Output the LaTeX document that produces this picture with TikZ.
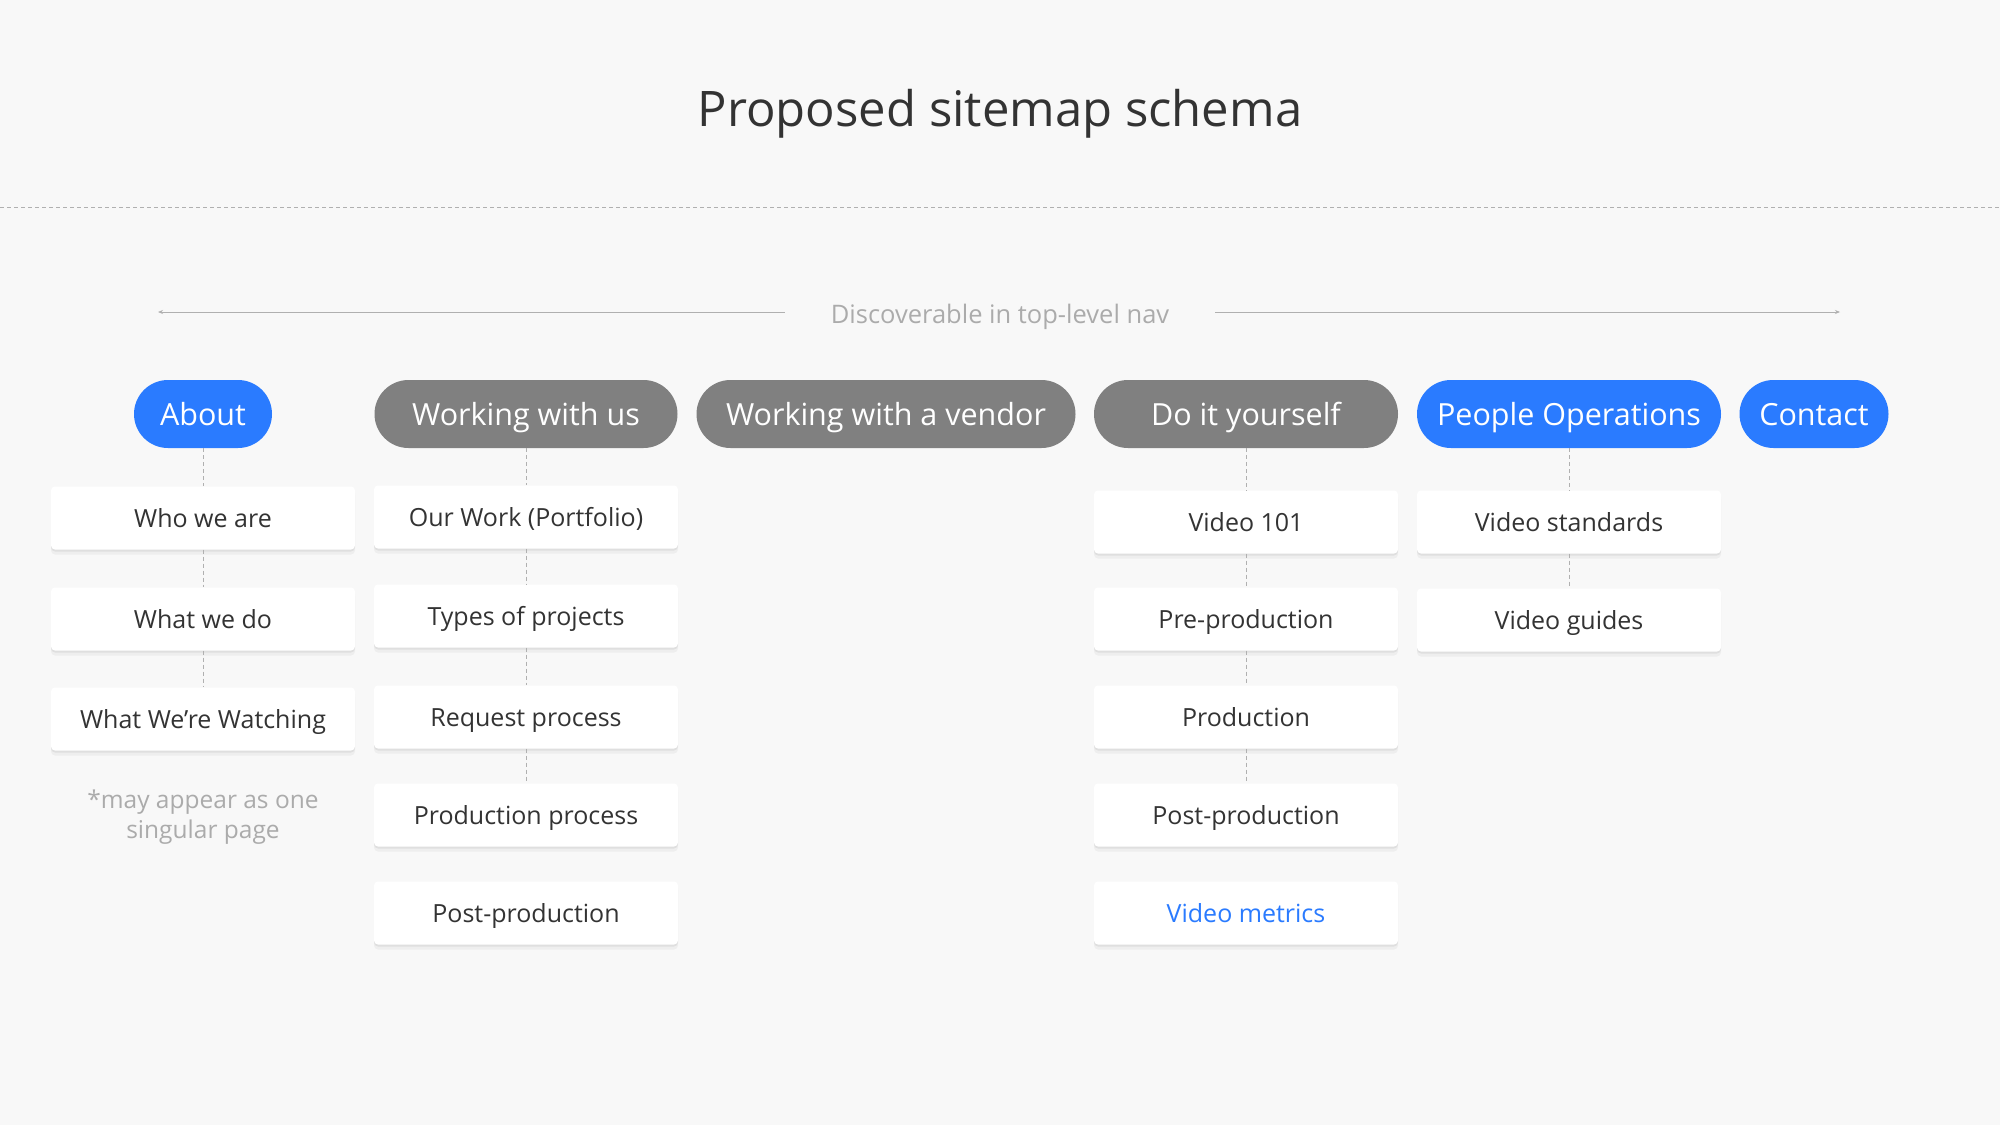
\documentclass[tikz,border=0pt]{standalone}
\usepackage{fontspec}
\setmainfont{Open Sans}
\usetikzlibrary{arrows.meta, shadows}
\definecolor{pageBg}{HTML}{F8F8F8}
\definecolor{navBlue}{HTML}{2A7BFF}
\definecolor{navGray}{HTML}{808080}
\definecolor{textDark}{HTML}{333333}
\definecolor{hintGray}{HTML}{ABABAB}
\definecolor{lineGray}{HTML}{B0B0B0}

\begin{document}
\begin{tikzpicture}[x=1pt, y=-1pt,
    pill/.style={rounded corners=34pt, minimum height=68pt, inner sep=0pt, text height=23pt, text depth=1pt, text=white, font=\fontsize{30.5}{34}\selectfont},
    pagebox/.style={fill=white, rounded corners=4pt, minimum width=304pt, minimum height=63pt, inner sep=0pt, text height=19pt, text depth=1pt, text=textDark, font=\fontsize{25}{29}\selectfont,
        drop shadow={shadow xshift=0pt, shadow yshift=-2pt, opacity=0.06, fill=black},
        drop shadow={shadow xshift=0pt, shadow yshift=-5pt, opacity=0.04, fill=black}},
    link/.style={draw=lineGray, dash pattern=on 4pt off 3pt, line width=0.8pt}]

    % background and frame
    \fill[pageBg] (0,0) rectangle (2000,1125);
    \useasboundingbox (0,0) rectangle (2000,1125);

    \node[text=textDark, font=\fontsize{49}{54}\selectfont] (title) at (1000,114) {Proposed sitemap schema};
    \draw[lineGray, dash pattern=on 4pt off 3pt, line width=0.8pt] (0,207) -- (2000,207);

    % top-level nav
    \node[text=hintGray, inner xsep=46pt, font=\fontsize{25.5}{30}\selectfont] (navtxt) at (1000,317) {Discoverable in top-level nav};
    \coordinate (navL) at (158,312);
    \coordinate (navR) at (1840,312);
    \draw[-{Stealth[length=5pt,width=4pt]}, lineGray, line width=1pt] (navtxt.west |- navL) -- (navL);
    \draw[-{Stealth[length=5pt,width=4pt]}, lineGray, line width=1pt] (navtxt.east |- navR) -- (navR);

    \foreach \name/\x/\w/\col/\txt in {about/203/138/navBlue/About, work/526/303/navGray/Working with us,
        vendor/886/379/navGray/Working with a vendor, diy/1246/304/navGray/Do it yourself,
        people/1569/304/navBlue/People Operations, contact/1814/149/navBlue/Contact} {
        \node[pill, fill=\col, minimum width=\w pt] (\name) at (\x,414) {\txt};
    }

    % pages
    \foreach \name/\x/\y/\txt in {who/203/518/Who we are, whatdo/203/619/What we do, watching/203/719/What We’re Watching,
        ourwork/526/517/Our Work (Portfolio), types/526/616/Types of projects, request/526/717/Request process,
        prodproc/526/815/Production process, wpost/526/913/Post-production,
        video101/1246/522/Video 101, preprod/1246/619/Pre-production, prod/1246/717/Production,
        dpost/1246/815/Post-production,
        standards/1569/522/Video standards, guides/1569/620/Video guides} {
        \node[pagebox] (\name) at (\x,\y) {\txt};
    }
    \node[pagebox, text=navBlue] (metrics) at (1246,913) {Video metrics};

    \node[text=hintGray, align=center, font=\fontsize{24.5}{30}\selectfont] (note) at (203,817) {*may appear as one\\singular page};

    \foreach \a/\b in {about/who, who/whatdo, whatdo/watching,
        work/ourwork, ourwork/types, types/request, request/prodproc,
        diy/video101, video101/preprod, preprod/prod, prod/dpost,
        people/standards, standards/guides} {
        \draw[link] (\a) -- (\b);
    }
\end{tikzpicture}
\end{document}
